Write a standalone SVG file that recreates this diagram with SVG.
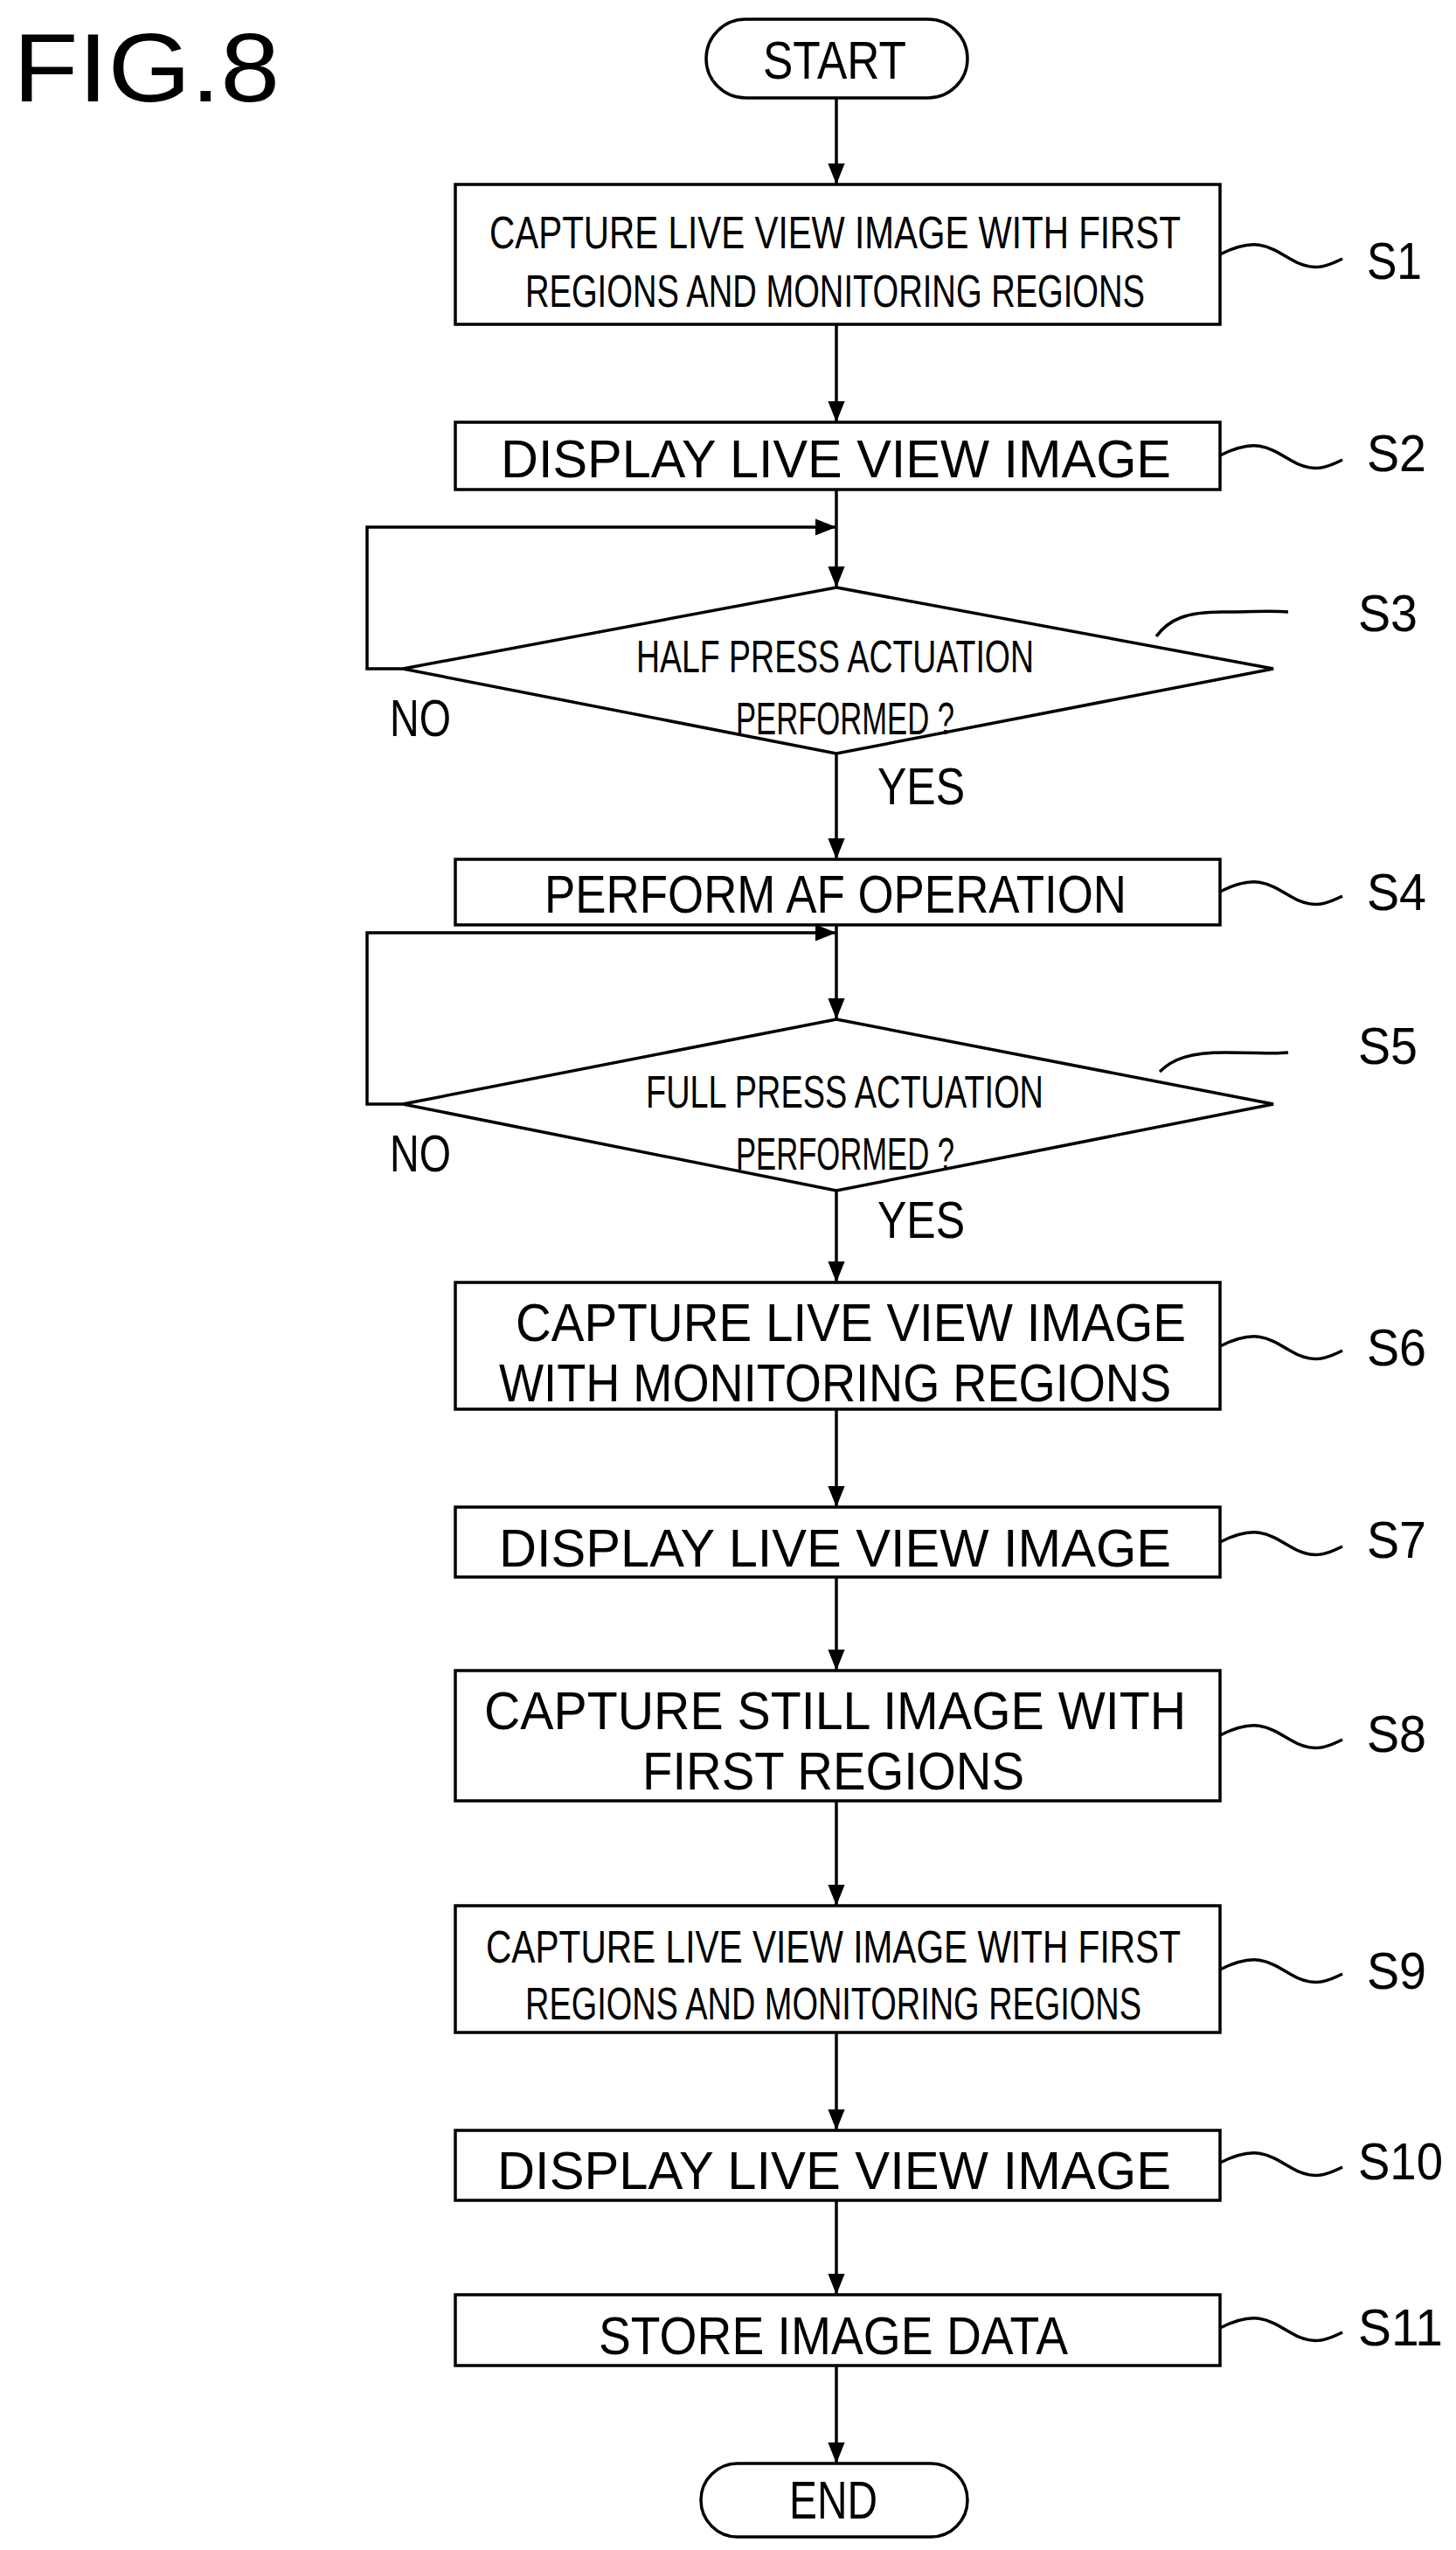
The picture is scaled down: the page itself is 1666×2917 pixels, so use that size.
<svg xmlns="http://www.w3.org/2000/svg" width="1666" height="2917" viewBox="0 0 1666 2917">
<style>
.b{fill:#fff;stroke:#000;stroke-width:3.5}
.t{font-family:"Liberation Sans",Arial,sans-serif;fill:#000;font-size:62px}
.s{font-family:"Liberation Sans",Arial,sans-serif;fill:#000;font-size:52px}
.l{font-family:"Liberation Sans",Arial,sans-serif;fill:#000;font-size:60px}
.c{fill:none;stroke:#000;stroke-width:3.5}
</style>
<defs><marker id="ah" viewBox="0 0 10 10" refX="10" refY="5" markerWidth="24" markerHeight="24" markerUnits="userSpaceOnUse" orient="auto"><path d="M0,1L10,5L0,9z"/></marker></defs>
<rect width="1666" height="2917" fill="#fff"/>
<text x="15" y="116" font-family="Liberation Sans,Arial,sans-serif" font-size="112" textLength="305" lengthAdjust="spacingAndGlyphs">FIG.8</text>
<g id="connectors" class="c">
<path d="M957,112V211" marker-end="url(#ah)"/>
<path d="M957,371V483" marker-end="url(#ah)"/>
<path d="M957,560V672" marker-end="url(#ah)"/>
<path d="M461,765H420V603H957" marker-end="url(#ah)"/>
<path d="M957,862V983" marker-end="url(#ah)"/>
<path d="M957,1058V1166" marker-end="url(#ah)"/>
<path d="M461,1263H420V1067H957" marker-end="url(#ah)"/>
<path d="M957,1362V1467" marker-end="url(#ah)"/>
<path d="M957,1612V1724" marker-end="url(#ah)"/>
<path d="M957,1804V1911" marker-end="url(#ah)"/>
<path d="M957,2060V2180" marker-end="url(#ah)"/>
<path d="M957,2325V2437" marker-end="url(#ah)"/>
<path d="M957,2517V2625" marker-end="url(#ah)"/>
<path d="M957,2706V2818" marker-end="url(#ah)"/>
</g>
<g id="start"><rect class="b" x="808" y="22" width="299" height="90" rx="45"/><text class="t" x="873" y="90" textLength="164" lengthAdjust="spacingAndGlyphs">START</text></g>
<g id="s1"><rect class="b" x="521" y="211" width="875" height="160"/><text class="s" x="560" y="284" textLength="791" lengthAdjust="spacingAndGlyphs">CAPTURE LIVE VIEW IMAGE WITH FIRST</text><text class="s" x="601" y="351" textLength="709" lengthAdjust="spacingAndGlyphs">REGIONS AND MONITORING REGIONS</text><path class="c" d="M1396,291c40,-20 55,-10 80,5s40,10 60,0"/><text class="l" x="1564" y="319" textLength="63" lengthAdjust="spacingAndGlyphs">S1</text></g>
<g id="s2"><rect class="b" x="521" y="483" width="875" height="77"/><text class="t" x="573" y="546" textLength="767" lengthAdjust="spacingAndGlyphs">DISPLAY LIVE VIEW IMAGE</text><path class="c" d="M1396,521c40,-20 55,-10 80,5s40,10 60,0"/><text class="l" x="1564" y="539" textLength="68" lengthAdjust="spacingAndGlyphs">S2</text></g>
<g id="s3"><path class="b" d="M957,672L1457,765L957,862L461,765Z"/><text class="s" x="728" y="769" textLength="455" lengthAdjust="spacingAndGlyphs">HALF PRESS ACTUATION</text><text class="s" x="842" y="840" textLength="250" lengthAdjust="spacingAndGlyphs">PERFORMED ?</text><path class="c" d="M1323,728c15,-20 35,-28 75,-28s55,-2 76,0"/><text class="l" x="1554" y="722" textLength="68" lengthAdjust="spacingAndGlyphs">S3</text><text class="l" x="446" y="842" textLength="70" lengthAdjust="spacingAndGlyphs">NO</text><text class="l" x="1004" y="920" textLength="100" lengthAdjust="spacingAndGlyphs">YES</text></g>
<g id="s4"><rect class="b" x="521" y="983" width="875" height="75"/><text class="t" x="623" y="1044" textLength="666" lengthAdjust="spacingAndGlyphs">PERFORM AF OPERATION</text><path class="c" d="M1396,1020c40,-20 55,-10 80,5s40,10 60,0"/><text class="l" x="1564" y="1041" textLength="68" lengthAdjust="spacingAndGlyphs">S4</text></g>
<g id="s5"><path class="b" d="M957,1166L1457,1263L957,1362L461,1263Z"/><text class="s" x="739" y="1267" textLength="455" lengthAdjust="spacingAndGlyphs">FULL PRESS ACTUATION</text><text class="s" x="842" y="1338" textLength="250" lengthAdjust="spacingAndGlyphs">PERFORMED ?</text><path class="c" d="M1327,1226c15,-15 35,-22 75,-22s55,2 72,0"/><text class="l" x="1554" y="1217" textLength="68" lengthAdjust="spacingAndGlyphs">S5</text><text class="l" x="446" y="1340" textLength="70" lengthAdjust="spacingAndGlyphs">NO</text><text class="l" x="1004" y="1416" textLength="100" lengthAdjust="spacingAndGlyphs">YES</text></g>
<g id="s6"><rect class="b" x="521" y="1467" width="875" height="145"/><text class="t" x="590" y="1534" textLength="767" lengthAdjust="spacingAndGlyphs">CAPTURE LIVE VIEW IMAGE</text><text class="t" x="571" y="1603" textLength="769" lengthAdjust="spacingAndGlyphs">WITH MONITORING REGIONS</text><path class="c" d="M1396,1540c40,-20 55,-10 80,5s40,10 60,0"/><text class="l" x="1564" y="1562" textLength="68" lengthAdjust="spacingAndGlyphs">S6</text></g>
<g id="s7"><rect class="b" x="521" y="1724" width="875" height="80"/><text class="t" x="571" y="1792" textLength="769" lengthAdjust="spacingAndGlyphs">DISPLAY LIVE VIEW IMAGE</text><path class="c" d="M1396,1764c40,-20 55,-10 80,5s40,10 60,0"/><text class="l" x="1564" y="1782" textLength="68" lengthAdjust="spacingAndGlyphs">S7</text></g>
<g id="s8"><rect class="b" x="521" y="1911" width="875" height="149"/><text class="t" x="554" y="1978" textLength="803" lengthAdjust="spacingAndGlyphs">CAPTURE STILL IMAGE WITH</text><text class="t" x="735" y="2047" textLength="437" lengthAdjust="spacingAndGlyphs">FIRST REGIONS</text><path class="c" d="M1396,1985c40,-20 55,-10 80,5s40,10 60,0"/><text class="l" x="1564" y="2004" textLength="68" lengthAdjust="spacingAndGlyphs">S8</text></g>
<g id="s9"><rect class="b" x="521" y="2180" width="875" height="145"/><text class="s" x="556" y="2245" textLength="795" lengthAdjust="spacingAndGlyphs">CAPTURE LIVE VIEW IMAGE WITH FIRST</text><text class="s" x="601" y="2310" textLength="705" lengthAdjust="spacingAndGlyphs">REGIONS AND MONITORING REGIONS</text><path class="c" d="M1396,2253c40,-20 55,-10 80,5s40,10 60,0"/><text class="l" x="1564" y="2275" textLength="68" lengthAdjust="spacingAndGlyphs">S9</text></g>
<g id="s10"><rect class="b" x="521" y="2437" width="875" height="80"/><text class="t" x="569" y="2504" textLength="771" lengthAdjust="spacingAndGlyphs">DISPLAY LIVE VIEW IMAGE</text><path class="c" d="M1396,2474c40,-20 55,-10 80,5s40,10 60,0"/><text class="l" x="1554" y="2493" textLength="97" lengthAdjust="spacingAndGlyphs">S10</text></g>
<g id="s11"><rect class="b" x="521" y="2625" width="875" height="81"/><text class="t" x="685" y="2693" textLength="537" lengthAdjust="spacingAndGlyphs">STORE IMAGE DATA</text><path class="c" d="M1396,2663c40,-20 55,-10 80,5s40,10 60,0"/><text class="l" x="1554" y="2683" textLength="97" lengthAdjust="spacingAndGlyphs">S11</text></g>
<g id="end"><rect class="b" x="802" y="2818" width="305" height="84" rx="42"/><text class="t" x="903" y="2881" textLength="101" lengthAdjust="spacingAndGlyphs">END</text></g>
</svg>
